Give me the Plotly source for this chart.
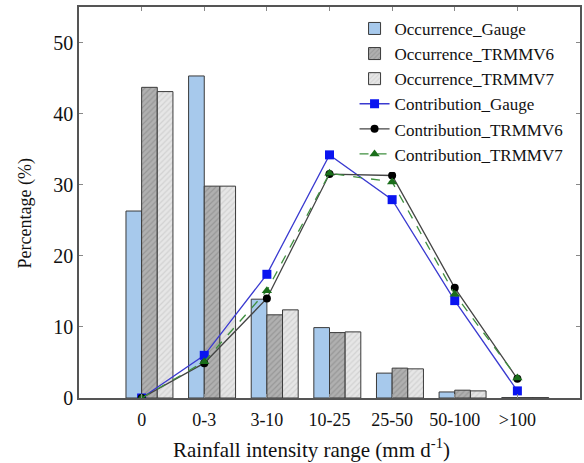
import plotly.graph_objects as go

categories = ["0", "0-3", "3-10", "10-25", "25-50", "50-100", ">100"]
occ_gauge = [26.3, 45.3, 13.9, 9.9, 3.5, 0.85, 0.05]
occ_v6 = [43.7, 29.8, 11.7, 9.2, 4.2, 1.1, 0.05]
occ_v7 = [43.1, 29.8, 12.4, 9.3, 4.1, 1.0, 0.05]
con_gauge = [0.0, 6.0, 17.4, 34.2, 27.9, 13.7, 1.0]
con_v6 = [0.0, 4.9, 14.0, 31.5, 31.3, 15.5, 2.7]
con_v7 = [0.0, 5.1, 15.1, 31.6, 30.4, 14.6, 2.8]
y_ticks = [0, 10, 20, 30, 40, 50]
x_title = "Rainfall intensity range (mm d<sup>-1</sup>)"
y_title = "Percentage (%)"

FONT = "Liberation Serif"
edge = dict(color="#3a3a3a", width=1)

fig = go.Figure()
fig.add_trace(go.Bar(
    x=categories, y=occ_gauge, name="Occurrence_Gauge",
    width=0.25, offset=-0.25,
    marker=dict(color="#a7c9ec", line=edge),
))
fig.add_trace(go.Bar(
    x=categories, y=occ_v6, name="Occurrence_TRMMV6",
    width=0.25, offset=0.0,
    marker=dict(color="#a3a3a3", line=edge,
                pattern=dict(shape="/", fgcolor="#7d7d7d", bgcolor="#b0b0b0",
                             size=4, solidity=0.3)),
))
fig.add_trace(go.Bar(
    x=categories, y=occ_v7, name="Occurrence_TRMMV7",
    width=0.25, offset=0.25,
    marker=dict(color="#dedede", line=edge,
                pattern=dict(shape="/", fgcolor="#bdbdbd", bgcolor="#e6e6e6",
                             size=4, solidity=0.3)),
))
fig.add_trace(go.Scatter(
    x=categories, y=con_gauge, name="Contribution_Gauge",
    mode="lines+markers",
    line=dict(color="#3a3ad0", width=1.3),
    marker=dict(symbol="square", size=9, color="#0a14f0"),
))
fig.add_trace(go.Scatter(
    x=categories, y=con_v6, name="Contribution_TRMMV6",
    mode="lines+markers",
    line=dict(color="#444444", width=1.3),
    marker=dict(symbol="circle", size=8, color="#000000"),
))
fig.add_trace(go.Scatter(
    x=categories, y=con_v7, name="Contribution_TRMMV7",
    mode="lines+markers",
    line=dict(color="#3f8f3f", width=1.3, dash="dash"),
    marker=dict(symbol="triangle-up", size=9, color="#1a6e1a"),
))

fig.update_layout(
    width=584, height=463,
    margin=dict(l=79, r=2, t=7, b=65),
    paper_bgcolor="white", plot_bgcolor="white",
    barmode="overlay",
    font=dict(family=FONT, size=17, color="#111111"),
    legend=dict(
        x=0.55, y=0.99, xanchor="left", yanchor="top",
        bgcolor="rgba(255,255,255,0.95)", borderwidth=0,
        font=dict(family=FONT, size=17, color="#111111"),
        tracegroupgap=0, itemwidth=30,
    ),
    showlegend=True,
    annotations=[
        dict(text=x_title, xref="paper", yref="paper", x=0.465, y=-0.128,
             xanchor="center", yanchor="middle", showarrow=False,
             font=dict(family=FONT, size=21, color="#111111")),
        dict(text=y_title, xref="paper", yref="paper", x=-0.107, y=0.473,
             xanchor="center", yanchor="middle", showarrow=False, textangle=-90,
             font=dict(family=FONT, size=18, color="#111111")),
    ],
)
fig.update_xaxes(
    type="category", range=[-1, 7],
    showline=True, linecolor="#555555", linewidth=1.5, mirror="ticks",
    ticks="inside", ticklen=4, tickcolor="#888888", ticklabelstandoff=5,
    tickfont=dict(family=FONT, size=18), showgrid=False, zeroline=False,
)
fig.update_yaxes(
    range=[0, 55], tickvals=y_ticks,
    showline=True, linecolor="#555555", linewidth=1.5, mirror="ticks",
    ticks="inside", ticklen=4, tickcolor="#888888",
    tickfont=dict(family=FONT, size=20), showgrid=False, zeroline=False,
)
post = ("document.body.style.margin='0';document.body.style.padding='0';"
        "var gd=document.getElementById('{plot_id}');"
        "Plotly.relayout(gd,{width:584,height:463});")
fig.write_html("out.html", config={"responsive": False, "displayModeBar": False},
               post_script=post)
